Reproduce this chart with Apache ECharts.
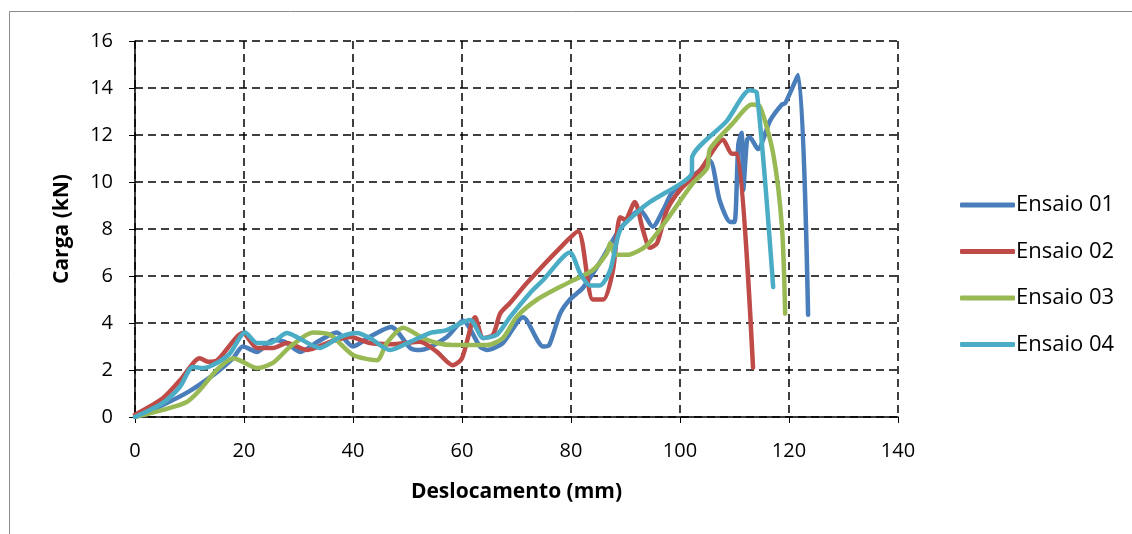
<!DOCTYPE html>
<html>
<head>
<meta charset="utf-8">
<script src="https://cdn.jsdelivr.net/npm/echarts@6/dist/echarts.min.js"></script>
<style>
  html, body { margin: 0; padding: 0; background: #fff; }
  #chart-container { width: 1132px; height: 534px; }
</style>
</head>
<body>
<div id="chart-container"></div>
<script>
var dom = document.getElementById('chart-container');
var myChart = echarts.init(dom, null, { renderer: 'canvas' });

// [deslocamento (mm), carga (kN)]
const ensaio01 = [
  [0, 0], [5, 0.5], [10, 1.1], [15, 1.9], [18, 2.5], [19.8, 3.0], [22.4, 2.77], [25.3, 3.28],
  [27.5, 3.2], [30.3, 2.77], [33.5, 3.2], [37, 3.6], [40, 3.0], [43, 3.4], [47, 3.83],
  [50.5, 2.94], [52.3, 2.85], [57.2, 3.4], [60.2, 4.1], [63.3, 3.0], [64.6, 2.85],
  [67.5, 3.15], [71.2, 4.25], [74.9, 3.0], [76, 3.06], [78, 4.4], [79.8, 5.0],
  [82.2, 5.5], [85.9, 6.8], [89, 8.0], [92.7, 8.8], [95, 8.1], [96.9, 8.8], [98.7, 9.6],
  [103.7, 10.5], [105.5, 10.9], [107.3, 9.2], [109.2, 8.3], [110, 8.3], [110.7, 11.6],
  [111.3, 12.1], [111.6, 9.66], [112.3, 11.8], [112.8, 11.9], [114.3, 11.4], [116.5, 12.6],
  [118.7, 13.3], [119.3, 13.35], [121.7, 14.55], [123.5, 4.35]
];
const ensaio02 = [
  [0, 0.1], [5.1, 0.8], [8.3, 1.57], [11.9, 2.5], [13.4, 2.35], [15, 2.4], [19.8, 3.57],
  [22.4, 2.94], [25.3, 2.94], [27.9, 3.15], [31.6, 2.85], [35.8, 3.2], [39.5, 3.4],
  [43.1, 3.15], [47, 3.1], [52.3, 3.2], [55.4, 2.77], [58.3, 2.2], [60, 2.5], [62.4, 4.25],
  [63.9, 3.36], [65.7, 3.5], [67, 4.4], [68.8, 4.85], [71.9, 5.7], [78, 7.2], [81.3, 7.9],
  [84, 5.0], [85.9, 5.0], [87.7, 6.25], [89, 8.5], [89.9, 8.4], [91.7, 9.15], [93.2, 7.96],
  [94.5, 7.2], [95.8, 7.4], [97.6, 8.8], [100, 9.66], [103.7, 10.5], [107.9, 11.8],
  [109.5, 11.2], [110.5, 11.2], [113.4, 2.1]
];
const ensaio03 = [
  [0, 0], [5.1, 0.3], [9.5, 0.64], [11.9, 1.15], [15, 2.0], [18, 2.5], [19.3, 2.4],
  [22.4, 2.08], [25.3, 2.3], [28.4, 2.98], [32.7, 3.6], [35.8, 3.5], [40, 2.64],
  [44.4, 2.42], [46.2, 3.15], [49.2, 3.8], [52.8, 3.36], [55.4, 3.15], [58.3, 3.06],
  [64.6, 3.06], [67.5, 3.36], [70, 4.25], [73.8, 5.0], [79.8, 5.75], [84, 6.25],
  [86.6, 6.98], [87.2, 7.4], [88.1, 6.9], [90.3, 6.9], [93.9, 7.3], [97.6, 8.4],
  [102.4, 9.96], [105, 10.6], [105.5, 11.4], [109.7, 12.5], [113.2, 13.3], [114.7, 13.2],
  [117.1, 11.2], [118.7, 8.1], [119.3, 4.4]
];
const ensaio04 = [
  [0, 0], [5.1, 0.6], [8.3, 1.3], [10.6, 2.13], [12.5, 2.08], [15, 2.3], [17.4, 2.7],
  [20.2, 3.6], [22.4, 3.15], [24.8, 3.15], [27.9, 3.57], [29.7, 3.4], [33.9, 2.94],
  [37.6, 3.4], [40.7, 3.57], [43.1, 3.36], [46.8, 2.85], [50.5, 3.2], [54.1, 3.57],
  [57.2, 3.7], [61.5, 4.13], [63.9, 3.36], [66.4, 3.5], [68.8, 4.25], [72.5, 5.28],
  [74.9, 5.83], [79.8, 7.0], [81.7, 6.1], [83.5, 5.6], [85.3, 5.6], [87.2, 6.25],
  [89, 7.96], [92.1, 8.7], [94.5, 9.15], [100.6, 10.0], [102.2, 10.4], [102.2, 11.0],
  [108.6, 12.6], [112.8, 13.9], [114.1, 13.8], [117.1, 5.53]
];

const nomes = ['Ensaio 01', 'Ensaio 02', 'Ensaio 03', 'Ensaio 04'];
const cores = ['#4a7ebb', '#be4b48', '#98b954', '#4bacc6'];
const dados = [ensaio01, ensaio02, ensaio03, ensaio04];

const fonte = '"Open Sans", Lato, sans-serif';

var option = {
  animation: false,
  color: cores,
  graphic: [{
    type: 'rect',
    shape: { x: 9.5, y: 11.5, width: 1140, height: 600 },
    style: { fill: 'none', stroke: '#8c8c8c', lineWidth: 1 },
    silent: true
  }],
  grid: { left: 135, right: 234, top: 41, bottom: 117 },
  legend: {
    orient: 'vertical',
    left: 955,
    top: 189,
    itemWidth: 55,
    itemHeight: 5,
    itemGap: 24.5,
    icon: 'roundRect',
    data: nomes,
    textStyle: { fontFamily: fonte, fontSize: 22, color: '#000', padding: [0, 0, 0, -4] }
  },
  xAxis: {
    type: 'value',
    min: 0, max: 140, interval: 20,
    name: 'Deslocamento (mm)',
    nameLocation: 'middle',
    nameGap: 65,
    nameTextStyle: { fontFamily: fonte, fontSize: 21, fontWeight: 'bold', color: '#000' },
    axisLine: { show: true, lineStyle: { color: '#000', width: 1.5 } },
    axisTick: { show: true, length: 6, lineStyle: { color: '#000' } },
    axisLabel: { fontFamily: fonte, fontSize: 20, color: '#000', margin: 24 },
    splitLine: { show: true, lineStyle: { color: '#000', type: [8, 5], width: 1.5 } }
  },
  yAxis: {
    type: 'value',
    min: 0, max: 16, interval: 2,
    name: 'Carga (kN)',
    nameLocation: 'middle',
    nameGap: 62,
    nameRotate: 90,
    nameTextStyle: { fontFamily: fonte, fontSize: 21, fontWeight: 'bold', color: '#000' },
    axisLine: { show: true, lineStyle: { color: '#000', width: 1.5 } },
    axisTick: { show: true, length: 6, lineStyle: { color: '#000' } },
    axisLabel: { fontFamily: fonte, fontSize: 20, color: '#000', margin: 22 },
    splitLine: { show: true, lineStyle: { color: '#000', type: [8, 5], width: 1.5 } }
  },
  series: dados.map(function (d, i) {
    return {
      name: nomes[i],
      type: 'line',
      data: d,
      smooth: 0.25,
      symbol: 'none',
      lineStyle: { width: 4.5, color: cores[i], cap: 'round', join: 'round' }
    };
  })
};

myChart.setOption(option);
window.addEventListener('resize', myChart.resize);
</script>
</body>
</html>
